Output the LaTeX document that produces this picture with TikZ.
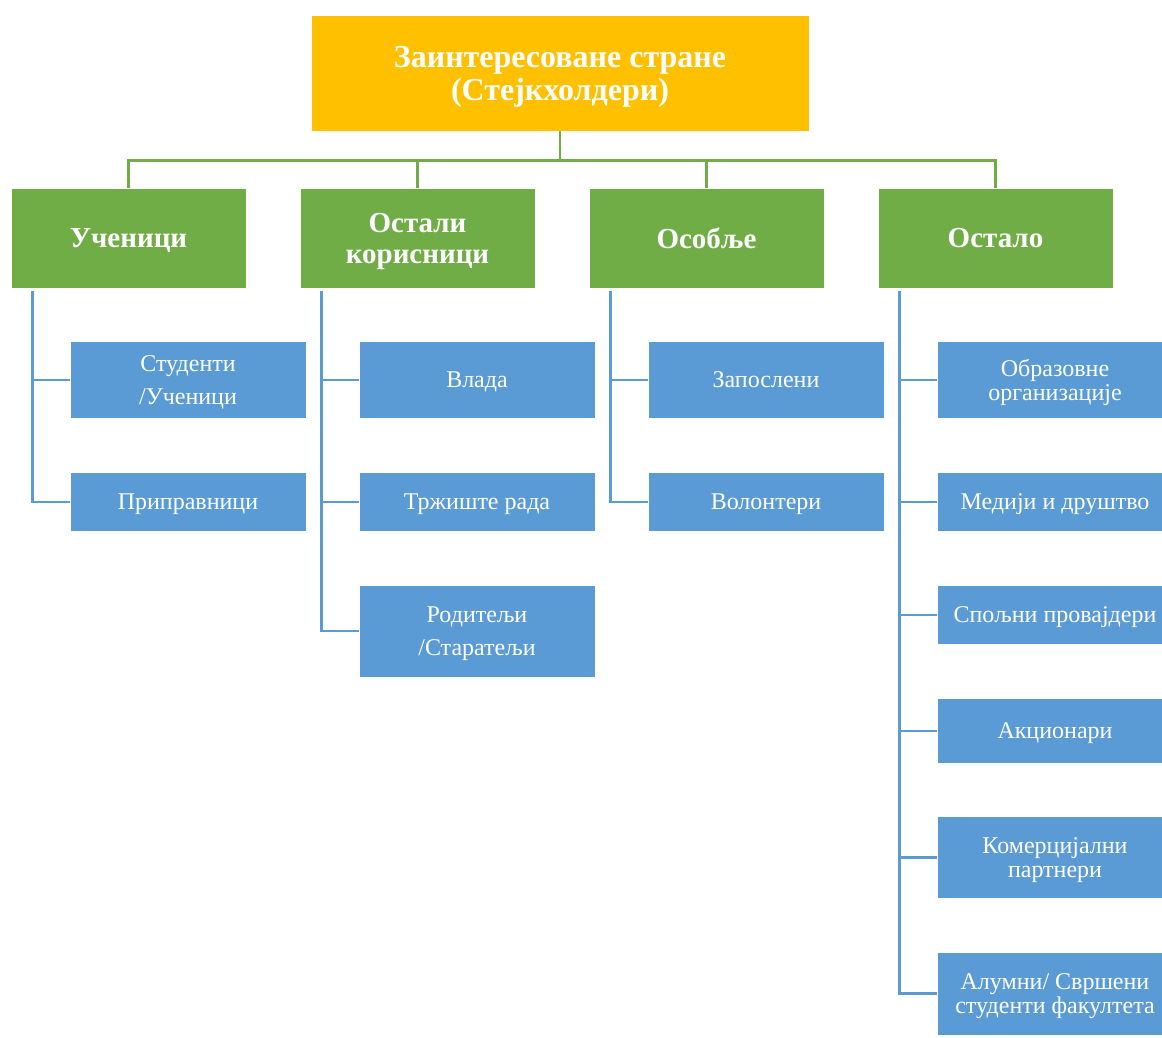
\documentclass[tikz,border=0pt]{standalone}
\usepackage{fontspec}
\setmainfont{Liberation Serif}
\usepackage{xcolor}

\definecolor{gold}{HTML}{FFC000}
\definecolor{leafgreen}{HTML}{70AD47}
\definecolor{skyblue}{HTML}{5B9BD5}

\tikzset{
  topbox/.style={fill=gold,draw=white,line width=0.8pt,text=white,align=center,
    minimum width=498,minimum height=116,inner sep=0,text depth=0pt,
    font=\fontsize{32}{33}\selectfont\bfseries},
  groupbox/.style={fill=leafgreen,draw=white,line width=0.8pt,text=white,align=center,
    minimum width=235,minimum height=100,inner sep=0,text depth=0pt,
    font=\fontsize{29}{31}\selectfont\bfseries},
  itembox/.style={fill=skyblue,draw=white,line width=0.8pt,text=white,align=center,
    minimum width=236,inner sep=0,text depth=0pt,
    font=\fontsize{24}{24}\selectfont},
  greenline/.style={draw=leafgreen,line width=2.6pt},
  blueline/.style={draw=skyblue,line width=2.6pt}
}

\begin{document}
\begin{tikzpicture}[x=1pt,y=-1pt]
\useasboundingbox (0,0) rectangle (1162,1037);
\node[topbox] (stake) at (560,73) {Заинтересоване стране\\(Стејкхолдери)};
\node[groupbox] (pupils) at (128.5,238) {Ученици};
\node[groupbox] (users) at (417.5,238) {Остали\\корисници};
\node[groupbox] (staff) at (706.5,238) {Особље};
\node[groupbox] (other) at (995.5,238) {Остало};
\draw[greenline] (stake.south) -- ++(0,29) -| (pupils.north);
\draw[greenline] (stake.south) -- ++(0,29) -| (users.north);
\draw[greenline] (stake.south) -- ++(0,29) -| (staff.north);
\draw[greenline] (stake.south) -- ++(0,29) -| (other.north);
% first column
\node[itembox,minimum height=77] (students) at (188,380) {Студенти\\[9pt]/Ученици};
\node[itembox,minimum height=59] (trainees) at (188,502) {Приправници};
\draw[blueline] ([xshift=22pt,yshift=-3pt]pupils.south west) |- (students.west);
\draw[blueline] ([xshift=22pt,yshift=-3pt]pupils.south west) |- (trainees.west);
% second column
\node[itembox,minimum height=77] (govt) at (477,380) {Влада};
\node[itembox,minimum height=59] (market) at (477,502) {Тржиште рада};
\node[itembox,minimum height=92] (parents) at (477,631) {Родитељи\\[9pt]/Старатељи};
\draw[blueline] ([xshift=22pt,yshift=-3pt]users.south west) |- (govt.west);
\draw[blueline] ([xshift=22pt,yshift=-3pt]users.south west) |- (market.west);
\draw[blueline] ([xshift=22pt,yshift=-3pt]users.south west) |- (parents.west);
% third column
\node[itembox,minimum height=77] (employed) at (766,380) {Запослени};
\node[itembox,minimum height=59] (volunteers) at (766,502) {Волонтери};
\draw[blueline] ([xshift=22pt,yshift=-3pt]staff.south west) |- (employed.west);
\draw[blueline] ([xshift=22pt,yshift=-3pt]staff.south west) |- (volunteers.west);
% fourth column
\node[itembox,minimum height=77] (schools) at (1055,380) {Образовне\\организације};
\node[itembox,minimum height=59] (media) at (1055,502) {Медији и друштво};
\node[itembox,minimum height=59] (providers) at (1055,615) {Спољни провајдери};
\node[itembox,minimum height=65] (holders) at (1055,731) {Акционари};
\node[itembox,minimum height=82] (partners) at (1055,857.5) {Комерцијални\\партнери};
\node[itembox,minimum height=83] (alumni) at (1055,993.5) {Алумни/ Свршени\\студенти факултета};
\draw[blueline] ([xshift=22pt,yshift=-3pt]other.south west) |- (schools.west);
\draw[blueline] ([xshift=22pt,yshift=-3pt]other.south west) |- (media.west);
\draw[blueline] ([xshift=22pt,yshift=-3pt]other.south west) |- (providers.west);
\draw[blueline] ([xshift=22pt,yshift=-3pt]other.south west) |- (holders.west);
\draw[blueline] ([xshift=22pt,yshift=-3pt]other.south west) |- (partners.west);
\draw[blueline] ([xshift=22pt,yshift=-3pt]other.south west) |- (alumni.west);
\end{tikzpicture}
\end{document}
